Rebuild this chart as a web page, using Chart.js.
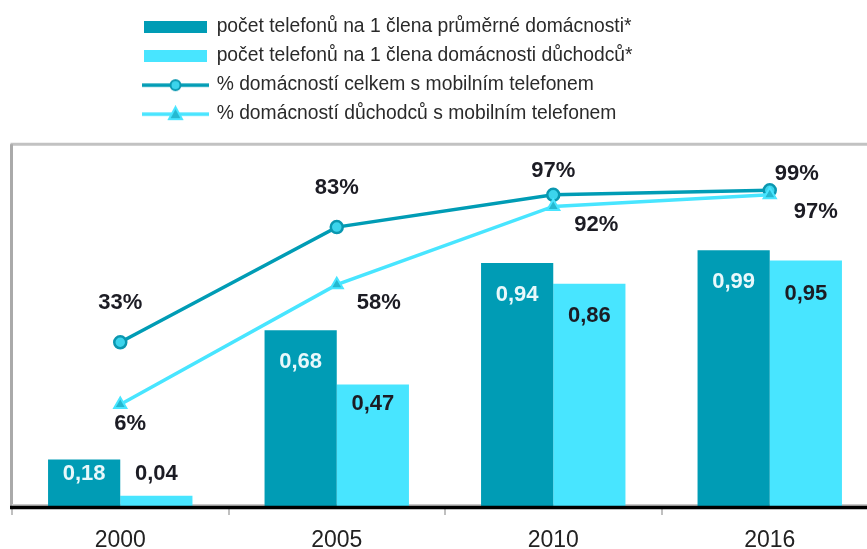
<!DOCTYPE html>
<html><head><meta charset="utf-8">
<script src="https://cdn.jsdelivr.net/npm/chart.js@4.4.1/dist/chart.umd.min.js"></script>
<style>
html,body{margin:0;padding:0;overflow:hidden;background:#fff;width:867px;height:549px}
#wrap{width:887px;height:570px;position:relative}
</style></head>
<body><div id="wrap"><canvas id="c" width="887" height="570"></canvas></div>
<script>
// ---- data ----
const categories = ['2000', '2005', '2010', '2016'];
const seriesNames = [
  'počet telefonů na 1 člena průměrné domácnosti*',
  'počet telefonů na 1 člena domácnosti důchodců*',
  '% domácností celkem s mobilním telefonem',
  '% domácností důchodců s mobilním telefonem'
];
const phonesPerMemberAll = [0.18, 0.68, 0.94, 0.99];
const phonesPerMemberPensioners = [0.04, 0.47, 0.86, 0.95];
const pctHouseholdsMobile = [33, 83, 97, 99];
const pctPensionerHouseholdsMobile = [6, 58, 92, 97];

// ---- styles ----
const DARK = '#009cb5';
const LIGHT = '#48e5ff';
const FONT = '"Liberation Sans", Arial, sans-serif';
// label offsets relative to each element (style only)
const labelStyle = [
  {color: '#e8f8fb', dx: [0, 0, 0, 0], dy: [14, 32, 32, 32]},
  {color: '#1c1c24', dx: [0, 0, 0, 0], dy: [-22, 19, 32, 33]},
  {color: '#1c1c24', dx: [0, 0, 0, 27], dy: [-39, -39, -24, -16]},
  {color: '#1c1c24', dx: [10, 42, 43, 46], dy: [19, 18, 19, 17]}
];

function swatchBar(color) {
  const c = document.createElement('canvas');
  c.width = 63; c.height = 12;
  const g = c.getContext('2d');
  g.fillStyle = color; g.fillRect(0, 0, 63, 12);
  return c;
}
function swatchLine(color, marker, fill, border) {
  const c = document.createElement('canvas');
  c.width = 67; c.height = 18;
  const g = c.getContext('2d');
  g.strokeStyle = color; g.lineWidth = 3.5;
  g.beginPath(); g.moveTo(0, 9); g.lineTo(67, 9); g.stroke();
  g.fillStyle = fill; g.strokeStyle = border; g.lineWidth = 2;
  g.beginPath();
  if (marker === 'circle') {
    g.arc(33.5, 9, 5, 0, Math.PI * 2);
  } else {
    g.moveTo(33.5, 2); g.lineTo(40, 14); g.lineTo(27, 14); g.closePath();
  }
  g.fill(); g.stroke();
  return c;
}
const swatches = [
  swatchBar(DARK),
  swatchBar(LIGHT),
  swatchLine(DARK, 'circle', '#3cd4ec', '#0a97b0'),
  swatchLine(LIGHT, 'triangle', '#25b9d1', LIGHT)
];

const framePlugin = {
  id: 'frame',
  beforeDraw(chart) {
    const lg = chart.legend;
    if (lg) { lg.left = 134.3; lg.top = 7.8; }
  },
  beforeDatasetsDraw(chart) {
    const {ctx, chartArea: a} = chart;
    ctx.save();
    ctx.strokeStyle = '#c2c2c2';
    ctx.lineWidth = 3;
    ctx.beginPath();
    ctx.moveTo(a.left - 1.5, a.top); ctx.lineTo(a.right, a.top);
    ctx.stroke();
    ctx.strokeStyle = '#aaaaaa';
    ctx.beginPath();
    ctx.moveTo(a.left - 0.5, a.top); ctx.lineTo(a.left - 0.5, a.bottom);
    ctx.stroke();
    ctx.strokeStyle = '#c8c8c8';
    ctx.lineWidth = 2;
    ctx.beginPath();
    ctx.moveTo(a.left, a.bottom - 1); ctx.lineTo(a.right, a.bottom - 1);
    ctx.stroke();
    ctx.restore();
  },
  afterDatasetsDraw(chart) {
    const {ctx, chartArea: a} = chart;
    ctx.save();
    ctx.strokeStyle = '#000';
    ctx.lineWidth = 3.5;
    ctx.beginPath();
    ctx.moveTo(a.left - 2, a.bottom + 1.5); ctx.lineTo(a.right, a.bottom + 1.5);
    ctx.stroke();
    // value labels
    ctx.font = 'bold 22px ' + FONT;
    ctx.textAlign = 'center';
    ctx.textBaseline = 'middle';
    chart.data.datasets.forEach((ds, di) => {
      const meta = chart.getDatasetMeta(di);
      const st = labelStyle[di];
      ctx.fillStyle = st.color;
      meta.data.forEach((el, i) => {
        const v = ds.data[i];
        const txt = ds.type === 'line' ? v + '%' : v.toFixed(2).replace('.', ',');
        ctx.fillText(txt, el.x + st.dx[i], el.y + st.dy[i]);
      });
    });
    ctx.restore();
  }
};

new Chart(document.getElementById('c'), {
  data: {
    labels: categories,
    datasets: [
      {type: 'bar', label: seriesNames[0], data: phonesPerMemberAll, backgroundColor: DARK,
        yAxisID: 'y', order: 2, categoryPercentage: 0.667, barPercentage: 1.0, borderWidth: 0},
      {type: 'bar', label: seriesNames[1], data: phonesPerMemberPensioners, backgroundColor: LIGHT,
        yAxisID: 'y', order: 2, categoryPercentage: 0.667, barPercentage: 1.0, borderWidth: 0},
      {type: 'line', label: seriesNames[2], data: pctHouseholdsMobile, borderColor: DARK, borderWidth: 3.5,
        yAxisID: 'y2', order: 1, tension: 0, pointStyle: 'circle', pointRadius: 6,
        pointBackgroundColor: '#3cd4ec', pointBorderColor: '#0a97b0', pointBorderWidth: 2.5},
      {type: 'line', label: seriesNames[3], data: pctPensionerHouseholdsMobile, borderColor: LIGHT, borderWidth: 3.5,
        yAxisID: 'y2', order: 0, tension: 0, pointStyle: 'triangle', pointRadius: 7,
        pointBackgroundColor: '#25b9d1', pointBorderColor: LIGHT, pointBorderWidth: 2}
    ]
  },
  options: {
    responsive: false,
    devicePixelRatio: 1,
    animation: false,
    layout: {padding: {left: 12, right: 2.5, top: 18.2, bottom: 3.4}},
    scales: {
      x: {
        grid: {display: true, offset: true, drawOnChartArea: false, drawTicks: true, tickLength: 9,
          color: '#c0c0c0', lineWidth: 2},
        border: {display: false},
        ticks: {color: '#222', font: {family: FONT, size: 23}, padding: 12}
      },
      y: {display: false, min: 0, max: 1.4},
      y2: {display: false, min: -38.1, max: 119}
    },
    plugins: {
      tooltip: {enabled: false},
      legend: {
        position: 'top', align: 'start',
        labels: {
          usePointStyle: true, pointStyleWidth: 63, padding: 9.7,
          color: '#2a2a2a', font: {family: FONT, size: 19.3},
          generateLabels(chart) {
            return chart.data.datasets.map((ds, i) => ({
              text: ds.label, pointStyle: swatches[i], fillStyle: 'transparent',
              strokeStyle: 'transparent', lineWidth: 0, hidden: false, datasetIndex: i, fontColor: '#2a2a2a'
            }));
          }
        }
      }
    }
  },
  plugins: [framePlugin]
});
</script>
</body></html>
